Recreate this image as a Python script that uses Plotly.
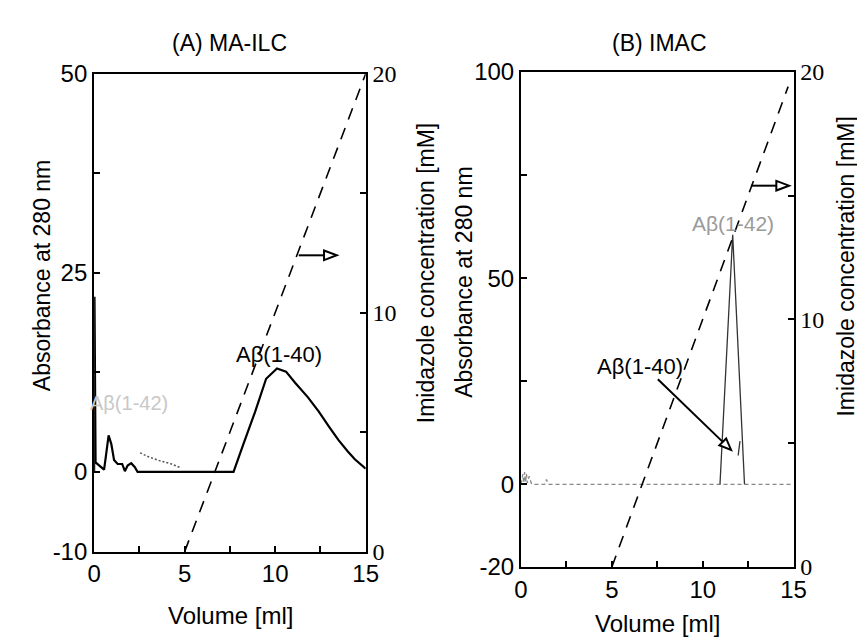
import plotly.graph_objects as go

# ---------------- data ----------------
# Panel A (MA-ILC): absorbance trace
a_vol = [0, 0.02, 0.08, 0.3, 0.55, 0.65, 0.8, 0.95, 1.1, 1.3, 1.55, 1.7, 1.85, 2.05, 2.25, 2.4,
         7.7, 8.2, 8.9, 9.5, 10.1, 10.6, 11.1, 11.8, 12.4, 13.0, 13.5, 14.0, 14.4, 15]
a_abs = [0, 22, 1.2, 0.8, 0.3, 2.0, 4.6, 3.5, 1.5, 1.0, 1.0, 0.1, 0.8, 1.1, 0.6, 0,
         0, 3.2, 7.6, 11.7, 13.0, 12.6, 11.2, 9.4, 7.6, 5.6, 4.0, 2.6, 1.6, 0.4]
# Panel A faint Abeta(1-42) trace
a42_vol = [2.54, 3.0, 3.57, 4.27, 4.8]
a42_abs = [2.4, 1.9, 1.45, 1.0, 0.5]
# Panel A imidazole gradient
a_grad_vol = [5, 15]
a_grad_mM = [0, 20]

# Panel B (IMAC): baseline (faint) and peak
b_base_vol = [0, 0.1, 0.15, 0.2, 0.25, 0.3, 0.35, 0.45, 0.55, 0.6, 1.3, 1.4, 1.5, 10.95, 12.3, 15]
b_base_abs = [0, 2.5, 0.3, 3.0, 0.5, 2.5, 0.3, 2.0, 0.5, 0, 0, 1.2, 0, 0, 0, 0]
b_peak_vol = [10.95, 11.65, 12.3]
b_peak_abs = [0, 60.5, 0]
b_sh_vol = [11.95, 12.05]
b_sh_abs = [7.0, 10.5]
b_grad_vol = [5, 14.7]
b_grad_mM = [0, 19.4]

x_ticks = [0, 2.5, 5, 7.5, 10, 12.5, 15]
x_text = ["0", "", "5", "", "10", "", "15"]
a_y_ticks = [-10, 0, 12.5, 25, 37.5, 50]
a_y_text = ["-10", "0", "", "25", "", "50"]
b_y_ticks = [-20, 0, 25, 50, 75, 100]
b_y_text = ["-20", "0", "", "50", "", "100"]
r_ticks = [0, 5, 10, 15, 20]
r_text = ["0", "", "10", "", "20"]

# ---------------- layout geometry (pixels) ----------------
W, H = 865, 638
A_X = (81, 359); A_Y = (54, 553)
B_X = (518, 797); B_Y = (52, 569)
A_XR = (0, 15); A_YR = (-10, 50); A_Y2R = (0, 20)
B_XR = (0, 15); B_YR = (-20, 100); B_Y2R = (0, 20)


def to_px(xv, yv, xd, yd, xr, yr):
    px = xd[0] + (xv - xr[0]) / (xr[1] - xr[0]) * (xd[1] - xd[0])
    py = yd[1] - (yv - yr[0]) / (yr[1] - yr[0]) * (yd[1] - yd[0])
    return px, py


def paper(px, py):
    return px / W, 1 - py / H


def arrow_shapes(tail, tip, hl=13, hw=5):
    (tx, ty), (hx, hy) = tail, tip
    dx, dy = hx - tx, hy - ty
    L = (dx * dx + dy * dy) ** 0.5
    ux, uy = dx / L, dy / L
    bx, by = hx - ux * hl, hy - uy * hl
    nx, ny = -uy, ux
    p1 = paper(bx + nx * hw, by + ny * hw)
    p2 = paper(bx - nx * hw, by - ny * hw)
    p3 = paper(hx, hy)
    t = paper(tx, ty)
    b = paper(bx, by)
    line = dict(type="line", xref="paper", yref="paper", x0=t[0], y0=t[1], x1=b[0], y1=b[1],
                line=dict(color="black", width=2))
    head = dict(type="path", xref="paper", yref="paper",
                path=f"M {p1[0]} {p1[1]} L {p3[0]} {p3[1]} L {p2[0]} {p2[1]} Z",
                fillcolor="white", line=dict(color="black", width=2))
    return [line, head]


fig = go.Figure()
fig.add_trace(go.Scatter(x=a_vol, y=a_abs, mode="lines", line=dict(color="black", width=2.2),
                         xaxis="x", yaxis="y", showlegend=False))
fig.add_trace(go.Scatter(x=a42_vol, y=a42_abs, mode="lines",
                         line=dict(color="#555", width=1.5, dash="2px,2px"),
                         xaxis="x", yaxis="y", showlegend=False))
fig.add_trace(go.Scatter(x=a_grad_vol, y=a_grad_mM, mode="lines",
                         line=dict(color="black", width=1.6, dash="12px,9px"),
                         xaxis="x", yaxis="y2", showlegend=False))
fig.add_trace(go.Scatter(x=b_base_vol, y=b_base_abs, mode="lines",
                         line=dict(color="#888", width=1.3, dash="4px,3px"),
                         xaxis="x2", yaxis="y3", showlegend=False))
fig.add_trace(go.Scatter(x=b_peak_vol, y=b_peak_abs, mode="lines",
                         line=dict(color="#333", width=1.3),
                         xaxis="x2", yaxis="y3", showlegend=False))
fig.add_trace(go.Scatter(x=b_sh_vol, y=b_sh_abs, mode="lines",
                         line=dict(color="#333", width=1.3),
                         xaxis="x2", yaxis="y3", showlegend=False))
fig.add_trace(go.Scatter(x=b_grad_vol, y=b_grad_mM, mode="lines",
                         line=dict(color="black", width=1.6, dash="12px,9px"),
                         xaxis="x2", yaxis="y4", showlegend=False))

sans = "Liberation Sans, Arial, sans-serif"
serif = "Liberation Serif, Times New Roman, serif"
tickfont = dict(family=sans, size=24, color="black")
rfont = dict(family=serif, size=24, color="black")

common = dict(showline=True, linecolor="black", linewidth=2, ticks="inside", ticklen=6,
              tickcolor="black", tickwidth=1.5, showgrid=False, zeroline=False, fixedrange=True)

fig.update_layout(
    width=W, height=H, autosize=False, margin=dict(l=0, r=0, t=0, b=0),
    paper_bgcolor="white", plot_bgcolor="white", showlegend=False,
    xaxis=dict(domain=[A_X[0] / W, A_X[1] / W], range=list(A_XR), anchor="y", mirror=True,
               tickvals=x_ticks, ticktext=x_text, tickfont=tickfont, **common),
    yaxis=dict(domain=[1 - A_Y[1] / H, 1 - A_Y[0] / H], range=list(A_YR), anchor="x",
               tickvals=a_y_ticks, ticktext=a_y_text, tickfont=tickfont, **common),
    yaxis2=dict(range=list(A_Y2R), overlaying="y", side="right", anchor="x",
                tickvals=r_ticks, ticktext=r_text, tickfont=rfont, **common),
    xaxis2=dict(domain=[B_X[0] / W, B_X[1] / W], range=list(B_XR), anchor="y3", mirror=True,
                tickvals=x_ticks, ticktext=x_text, tickfont=tickfont, **common),
    yaxis3=dict(domain=[1 - B_Y[1] / H, 1 - B_Y[0] / H], range=list(B_YR), anchor="x2",
                tickvals=b_y_ticks, ticktext=b_y_text, tickfont=tickfont, **common),
    yaxis4=dict(range=list(B_Y2R), overlaying="y3", side="right", anchor="x2",
                tickvals=r_ticks, ticktext=r_text, tickfont=rfont, **common),
)

shapes = []
# Panel A gradient arrow
shapes += arrow_shapes(to_px(11.3, 12.4, A_X, A_Y, A_XR, A_Y2R), to_px(13.4, 12.4, A_X, A_Y, A_XR, A_Y2R))
# Panel B gradient arrow
shapes += arrow_shapes(to_px(12.65, 15.4, B_X, B_Y, B_XR, B_Y2R), to_px(14.75, 15.4, B_X, B_Y, B_XR, B_Y2R))
# Panel B Abeta(1-40) pointer
shapes += arrow_shapes(to_px(7.53, 25.5, B_X, B_Y, B_XR, B_YR), to_px(11.56, 8.35, B_X, B_Y, B_XR, B_YR),
                       hl=12, hw=5)
fig.update_layout(shapes=shapes)

ann = []


def text_at(xv, yv, txt, size, xref, yref, color="black", family=sans, angle=0):
    ann.append(dict(x=xv, y=yv, xref=xref, yref=yref, text=txt, showarrow=False,
                    font=dict(family=family, size=size, color=color), textangle=angle,
                    xanchor="center", yanchor="middle"))


def paper_text(px, py, txt, size, angle=0, color="black"):
    x, y = paper(px, py)
    text_at(x, y, txt, size, "paper", "paper", color=color, angle=angle)


text_at(10.2, 14.8, "Aβ(1-40)", 22, "x", "y")
text_at(1.9, 8.6, "Aβ(1-42)", 20, "x", "y", color="#c8c8c8")
text_at(6.56, 28.5, "Aβ(1-40)", 22, "x2", "y3")
text_at(11.67, 63.3, "Aβ(1-42)", 21, "x2", "y3", color="#9a9a9a")

paper_text(220, 22, "(A) MA-ILC", 23)
paper_text(660, 22, "(B) IMAC", 23)
paper_text(221, 620, "Volume [ml]", 24)
paper_text(658, 628, "Volume [ml]", 24)
paper_text(27, 265, "Absorbance at 280 nm", 23, angle=-90)
paper_text(460, 272, "Absorbance at 280 nm", 23, angle=-90)
paper_text(421, 262, "Imidazole concentration [mM]", 23, angle=-90)
paper_text(851, 255, "Imidazole concentration [mM]", 23, angle=-90)
fig.update_layout(annotations=ann)

fig.write_html("out.html")
